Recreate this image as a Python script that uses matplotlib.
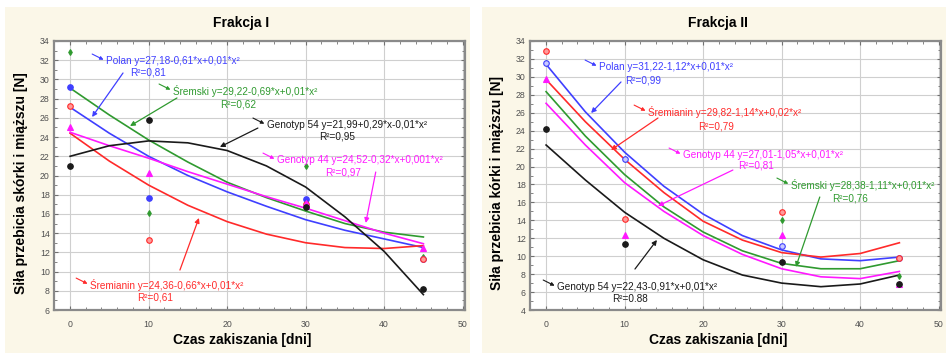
import numpy as np
import matplotlib
matplotlib.use("Agg")
import matplotlib.pyplot as plt
from matplotlib.patches import Rectangle
from matplotlib.ticker import MultipleLocator

plt.rcParams['font.family'] = ['Liberation Sans', 'DejaVu Sans']

# czas zakiszania (dni)
x_pts = [0, 10, 30, 45]
x_fit = [0, 5, 10, 15, 20, 25, 30, 35, 40, 45]

# Frakcja I - punkty pomiarowe
f1_polan = [29.2, 17.7, 17.6, 11.3]
f1_sremski = [32.9, 16.1, 21.0, 11.5]
f1_sremianin = [27.2, 13.3, 17.0, 11.3]
f1_g44 = [25.1, 20.3, 17.1, 12.5]
f1_g54 = [21.0, 25.8, 16.7, 8.2]
# Frakcja I - krzywe regresji
f1_polan_fit = [27.1, 24.4, 22.0, 20.0, 18.3, 16.8, 15.4, 14.3, 13.4, 12.5]
f1_sremski_fit = [29.1, 26.3, 23.7, 21.4, 19.3, 17.7, 16.3, 15.0, 14.1, 13.6]
f1_sremianin_fit = [24.4, 21.5, 19.0, 16.9, 15.2, 13.9, 13.0, 12.5, 12.4, 12.7]
f1_g44_fit = [24.5, 23.1, 21.8, 20.4, 19.1, 17.8, 16.6, 15.3, 14.0, 12.9]
f1_g54_fit = [22.0, 23.1, 23.6, 23.4, 22.6, 21.0, 18.8, 15.7, 12.1, 7.6]

# Frakcja II - punkty pomiarowe
f2_polan = [31.6, 20.8, 11.1, 9.8]
f2_sremski = [31.6, 20.8, 14.0, 7.8]
f2_sremianin = [32.9, 14.1, 14.9, 9.8]
f2_g44 = [29.8, 12.4, 12.4, 6.9]
f2_g54 = [24.2, 11.4, 9.3, 6.9]
# Frakcja II - krzywe regresji
f2_polan_fit = [31.4, 26.1, 21.6, 17.8, 14.7, 12.3, 10.7, 9.7, 9.5, 9.9]
f2_sremski_fit = [28.35, 23.4, 19.1, 15.5, 12.7, 10.6, 9.2, 8.6, 8.6, 9.5]
f2_sremianin_fit = [29.7, 25.0, 20.8, 17.1, 13.9, 11.8, 10.4, 9.9, 10.3, 11.5]
f2_g44_fit = [27.05, 22.4, 18.2, 15.0, 12.3, 10.2, 8.6, 7.7, 7.5, 8.3]
f2_g54_fit = [22.4, 18.5, 14.9, 12.0, 9.6, 7.9, 7.0, 6.6, 6.9, 7.9]

BLUE = '#3f3fff'
GREEN = '#2f9a2f'
RED = '#ff2a2a'
MAG = '#ff19ff'
BLACK = '#1a1a1a'

fig = plt.figure(figsize=(9.46, 3.53), dpi=100)
# tlo paneli
fig.patches.append(Rectangle((5/946, 0), 465/946, 346/353, transform=fig.transFigure,
                             facecolor='#fbf7e8', edgecolor='none', zorder=-10))
fig.patches.append(Rectangle((482/946, 0), 464/946, 346/353, transform=fig.transFigure,
                             facecolor='#fbf7e8', edgecolor='none', zorder=-10))

ax1 = fig.add_axes([54/946, 1-310/353, 411/946, 269/353])
ax2 = fig.add_axes([530/946, 1-310/353, 411/946, 269/353])


def style(ax, ymin):
    ax.set_facecolor('white')
    ax.set_xlim(-2.05, 50.3)
    ax.set_ylim(ymin, 34)
    ax.xaxis.set_major_locator(MultipleLocator(10))
    ax.xaxis.set_minor_locator(MultipleLocator(2))
    ax.yaxis.set_major_locator(MultipleLocator(2))
    ax.yaxis.set_minor_locator(MultipleLocator(1))
    ax.grid(True, which='major', color='#cfcfcf', lw=0.8)
    ax.tick_params(which='both', direction='in', top=True, right=True,
                   color='#707070', labelsize=6.3, labelcolor='#505050')
    ax.tick_params(which='major', length=3)
    ax.tick_params(which='minor', length=2)
    ax.tick_params(axis='x', pad=7)
    ax.tick_params(axis='y', pad=3)
    for s in ax.spines.values():
        s.set_color('#8a8a8a')
        s.set_linewidth(1.6)
    ax.set_axisbelow(True)


def series(ax, pts, fit, color, marker, face=None, ms=4):
    ax.plot(x_fit, fit, color=color, lw=1.2, zorder=3)
    ax.plot(x_pts, pts, ls='none', marker=marker, ms=ms, color=color,
            mfc=face if face else color, mec=color, mew=0.8, zorder=4)


def label(ax, color, l1, t1, l2, t2, tail, tip):
    ax.text(l1[0], l1[1], t1, color=color, fontsize=7.2, ha='left', va='center', zorder=6)
    ax.text(l2[0], l2[1], t2, color=color, fontsize=7.2, ha='center', va='center', zorder=6)
    # mala strzalka przy poczatku tekstu
    ax.annotate('', xy=l1, xytext=(-10, 5), textcoords='offset points',
                arrowprops=dict(arrowstyle='-|>', color=color, lw=0.8,
                                shrinkA=0, shrinkB=2, mutation_scale=5), zorder=6)
    ax.annotate('', xy=tip, xytext=tail,
                arrowprops=dict(arrowstyle='-|>', color=color, lw=0.9,
                                shrinkA=0, shrinkB=0, mutation_scale=7), zorder=6)


style(ax1, 6)
series(ax1, f1_sremski, f1_sremski_fit, GREEN, 'd', ms=3)
series(ax1, f1_polan, f1_polan_fit, BLUE, 'o')
series(ax1, f1_sremianin, f1_sremianin_fit, RED, 'o', face='#ff9a9a')
series(ax1, f1_g44, f1_g44_fit, MAG, '^')
series(ax1, f1_g54, f1_g54_fit, BLACK, 'o')

label(ax1, BLUE, (4.58, 31.92), 'Polan y=27,18-0,61*x+0,01*x²', (9.92, 30.77), 'R²=0,81',
      (6.74, 30.67), (2.80, 26.09))
label(ax1, GREEN, (13.10, 28.80), 'Śremski y=29,22-0,69*x+0,01*x²', (21.37, 27.44), 'R²=0,62',
      (13.61, 28.07), (7.63, 25.15))
label(ax1, BLACK, (25.06, 25.26), 'Genotyp 54 y=21,99+0,29*x-0,01*x²', (33.97, 24.01), 'R²=0,95',
      (23.92, 24.94), (19.08, 22.97))
label(ax1, MAG, (26.34, 21.61), 'Genotyp 44 y=24,52-0,32*x+0,001*x²', (34.73, 20.36), 'R²=0,97',
      (38.93, 20.36), (37.66, 15.06))
label(ax1, RED, (2.54, 8.60), 'Śremianin y=24,36-0,66*x+0,01*x²', (10.81, 7.25), 'R²=0,61',
      (13.99, 10.16), (16.41, 15.58))

style(ax2, 4)
series(ax2, f2_sremski, f2_sremski_fit, GREEN, 'd', ms=3)
series(ax2, f2_polan, f2_polan_fit, BLUE, 'o', face='#c8c8ff')
series(ax2, f2_sremianin, f2_sremianin_fit, RED, 'o', face='#ff9a9a')
series(ax2, f2_g44, f2_g44_fit, MAG, '^')
series(ax2, f2_g54, f2_g54_fit, BLACK, 'o')

label(ax2, BLUE, (6.74, 31.10), 'Polan y=31,22-1,12*x+0,01*x²', (12.34, 29.54), 'R²=0,99',
      (9.54, 29.43), (5.73, 25.97))
label(ax2, RED, (12.98, 26.08), 'Śremianin y=29,82-1,14*x+0,02*x²', (21.63, 24.41), 'R²=0,79',
      (14.25, 25.41), (8.27, 21.84))
label(ax2, MAG, (17.43, 21.29), 'Genotyp 44 y=27,01-1,05*x+0,01*x²', (26.72, 20.06), 'R²=0,81',
      (23.79, 19.61), (14.25, 15.60))
label(ax2, GREEN, (31.17, 17.94), 'Śremski y=28,38-1,11*x+0,01*x²', (38.68, 16.49), 'R²=0,76',
      (34.86, 16.60), (31.81, 8.80))
label(ax2, BLACK, (1.40, 6.57), 'Genotyp 54 y=22,43-0,91*x+0,01*x²', (10.69, 5.23), 'R²=0.88',
      (11.32, 8.57), (14.12, 11.81))

# tytuly i opisy osi
fig.text(241/946, 1-23/353, 'Frakcja I', ha='center', va='center', fontsize=10, fontweight='bold')
fig.text(718/946, 1-23/353, 'Frakcja II', ha='center', va='center', fontsize=10, fontweight='bold')
fig.text(242/946, 1-340/353, 'Czas zakiszania [dni]', ha='center', va='center', fontsize=10, fontweight='bold')
fig.text(718/946, 1-340/353, 'Czas zakiszania [dni]', ha='center', va='center', fontsize=10, fontweight='bold')
fig.text(21/946, 1-183/353, 'Siła przebicia skórki i miąższu [N]', rotation=90,
         ha='center', va='center', fontsize=10, fontweight='bold')
fig.text(497/946, 1-183/353, 'Siła przebicia kórki i miąższu [N]', rotation=90,
         ha='center', va='center', fontsize=10, fontweight='bold')

fig.savefig('out.png', dpi=100)
